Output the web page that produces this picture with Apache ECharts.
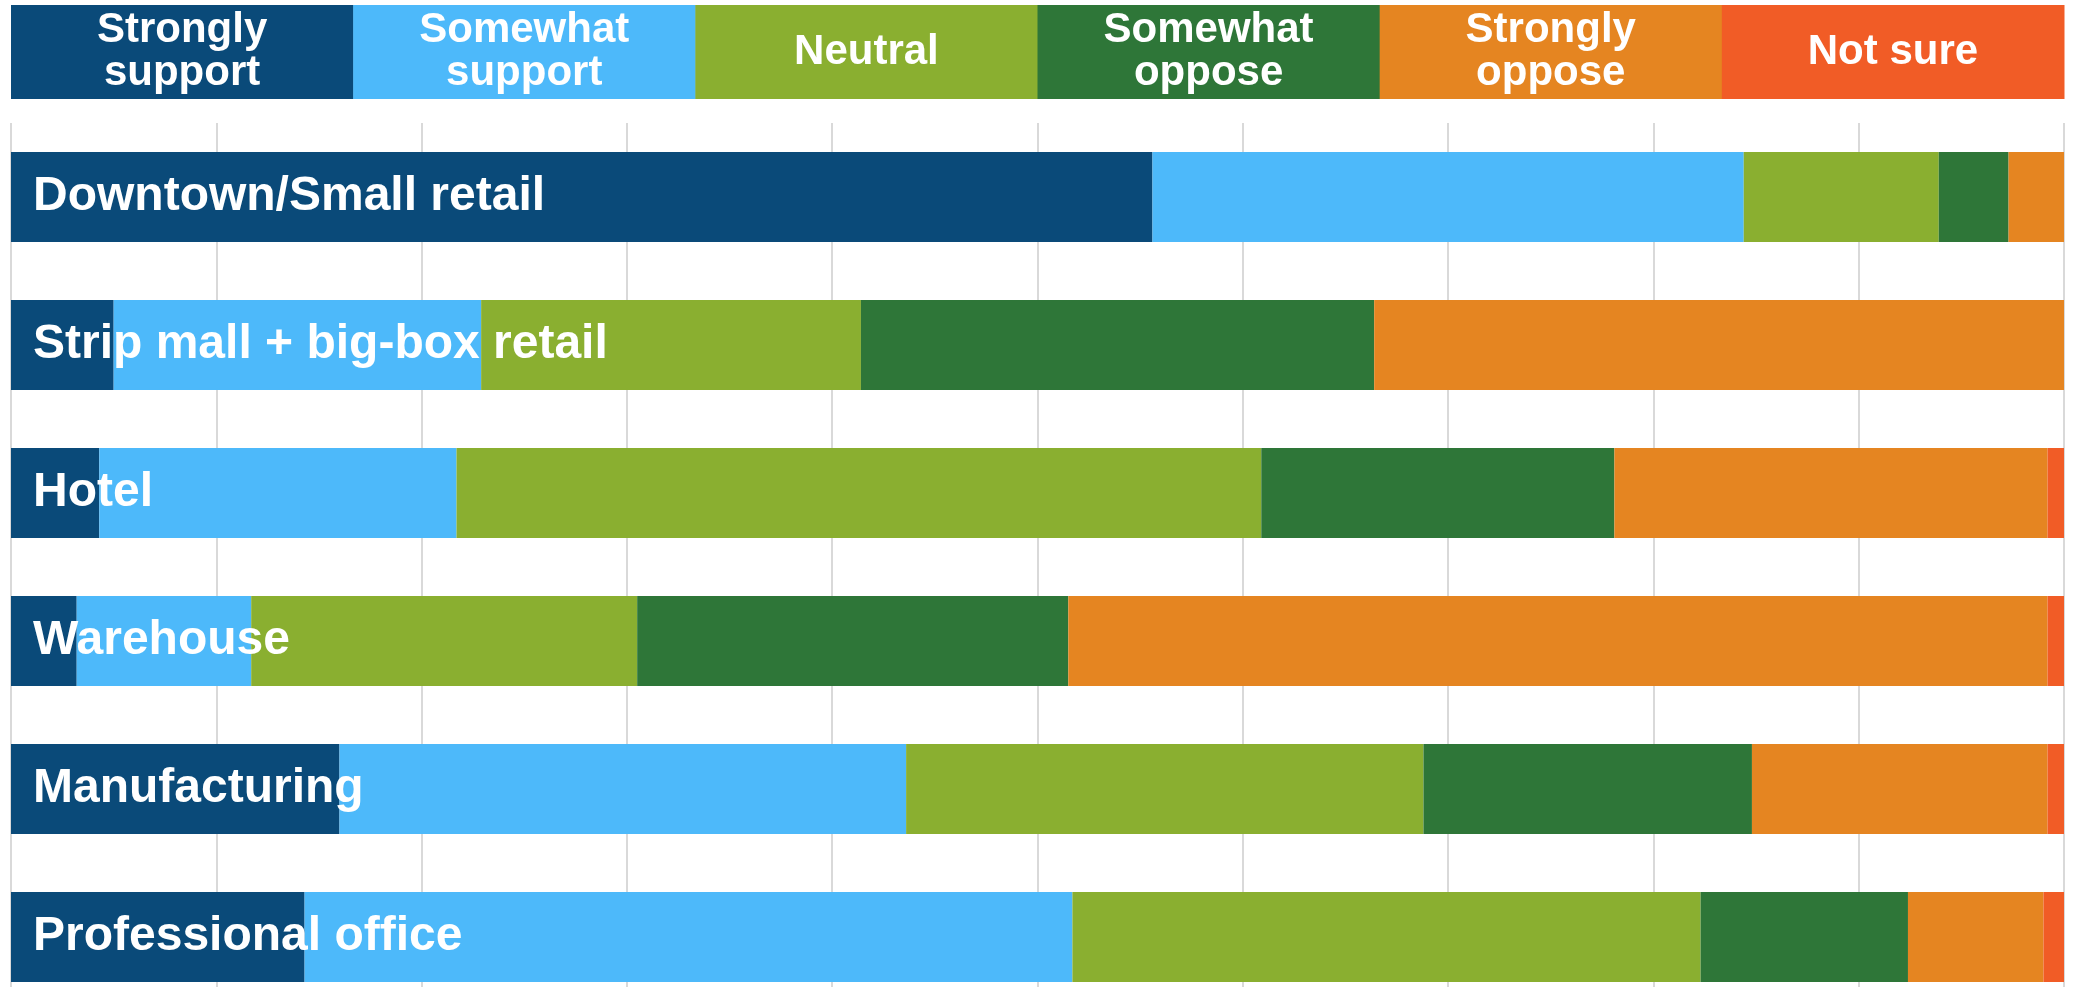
<!DOCTYPE html>
<html>
<head>
<meta charset="utf-8">
<script src="https://cdn.jsdelivr.net/npm/echarts@6/dist/echarts.min.js"></script>
<style>
  html, body { margin: 0; padding: 0; background: #ffffff; }
  #chart { width: 2074px; height: 987px; }
</style>
</head>
<body>
<div id="chart"></div>
<script>
// ---- data ----
const categories = ['Downtown/Small retail', 'Strip mall + big-box retail', 'Hotel', 'Warehouse', 'Manufacturing', 'Professional office'];
const seriesNames = ['Strongly support', 'Somewhat support', 'Neutral', 'Somewhat oppose', 'Strongly oppose', 'Not sure'];
const headerLabels = ['Strongly\nsupport', 'Somewhat\nsupport', 'Neutral', 'Somewhat\noppose', 'Strongly\noppose', 'Not sure'];
const stronglySupport = [55.6, 5.0, 4.3, 3.2, 16.0, 14.3];
const somewhatSupport = [28.8, 17.9, 17.4, 8.5, 27.6, 37.4];
const neutral         = [9.5, 18.5, 39.2, 18.8, 25.2, 30.6];
const somewhatOppose  = [3.4, 25.0, 17.2, 21.0, 16.0, 10.1];
const stronglyOppose  = [2.7, 33.6, 21.1, 47.7, 14.4, 6.6];
const notSure         = [0.0, 0.0, 0.8, 0.8, 0.9, 1.0];
const xTicks = { min: 0, max: 100, interval: 10 };

// ---- style ----
const colors = ['#0a4a79', '#4db9fa', '#8aaf30', '#2e7638', '#e58521', '#f15c26'];
const FONT = '"Liberation Sans", Arial, Helvetica, sans-serif';
const GRID = { left: 11, right: 10, top: 123, height: 888 };
const W = 2074;

const values = [stronglySupport, somewhatSupport, neutral, somewhatOppose, stronglyOppose, notSure];

const chart = echarts.init(document.getElementById('chart'), null, { renderer: 'canvas' });

const plotW = W - GRID.left - GRID.right;
const boxW = plotW / seriesNames.length;
const header = headerLabels.map((lab, i) => ({
  type: 'group',
  children: [
    { type: 'rect', shape: { x: GRID.left + i * boxW, y: 5, width: boxW + 0.5, height: 94 },
      style: { fill: colors[i] } },
    { type: 'text', x: GRID.left + i * boxW + boxW / 2, y: 52,
      style: { text: lab, fill: '#ffffff', font: 'bold 42px ' + FONT, align: 'center',
               verticalAlign: 'middle', lineHeight: 43 } }
  ]
}));

chart.setOption({
  animation: false,
  backgroundColor: '#ffffff',
  grid: { left: GRID.left, right: GRID.right, top: GRID.top, height: GRID.height,
          containLabel: false, outerBoundsMode: 'none' },
  xAxis: {
    type: 'value', min: xTicks.min, max: xTicks.max, interval: xTicks.interval,
    axisLine: { show: false }, axisTick: { show: false }, axisLabel: { show: false },
    splitLine: { show: true, lineStyle: { color: '#d9d9d9', width: 2 } }
  },
  yAxis: {
    type: 'category', data: categories, inverse: true, z: 10,
    axisLine: { show: false }, axisTick: { show: false },
    axisLabel: { inside: true, margin: 22, color: '#ffffff', fontFamily: FONT,
                 fontWeight: 'bold', fontSize: 48, padding: [8, 0, 0, 0] }
  },
  graphic: header,
  series: seriesNames.map((name, i) => ({
    name, type: 'bar', stack: 'total', data: values[i], barWidth: 90,
    itemStyle: { color: colors[i] }
  }))
});
</script>
</body>
</html>
